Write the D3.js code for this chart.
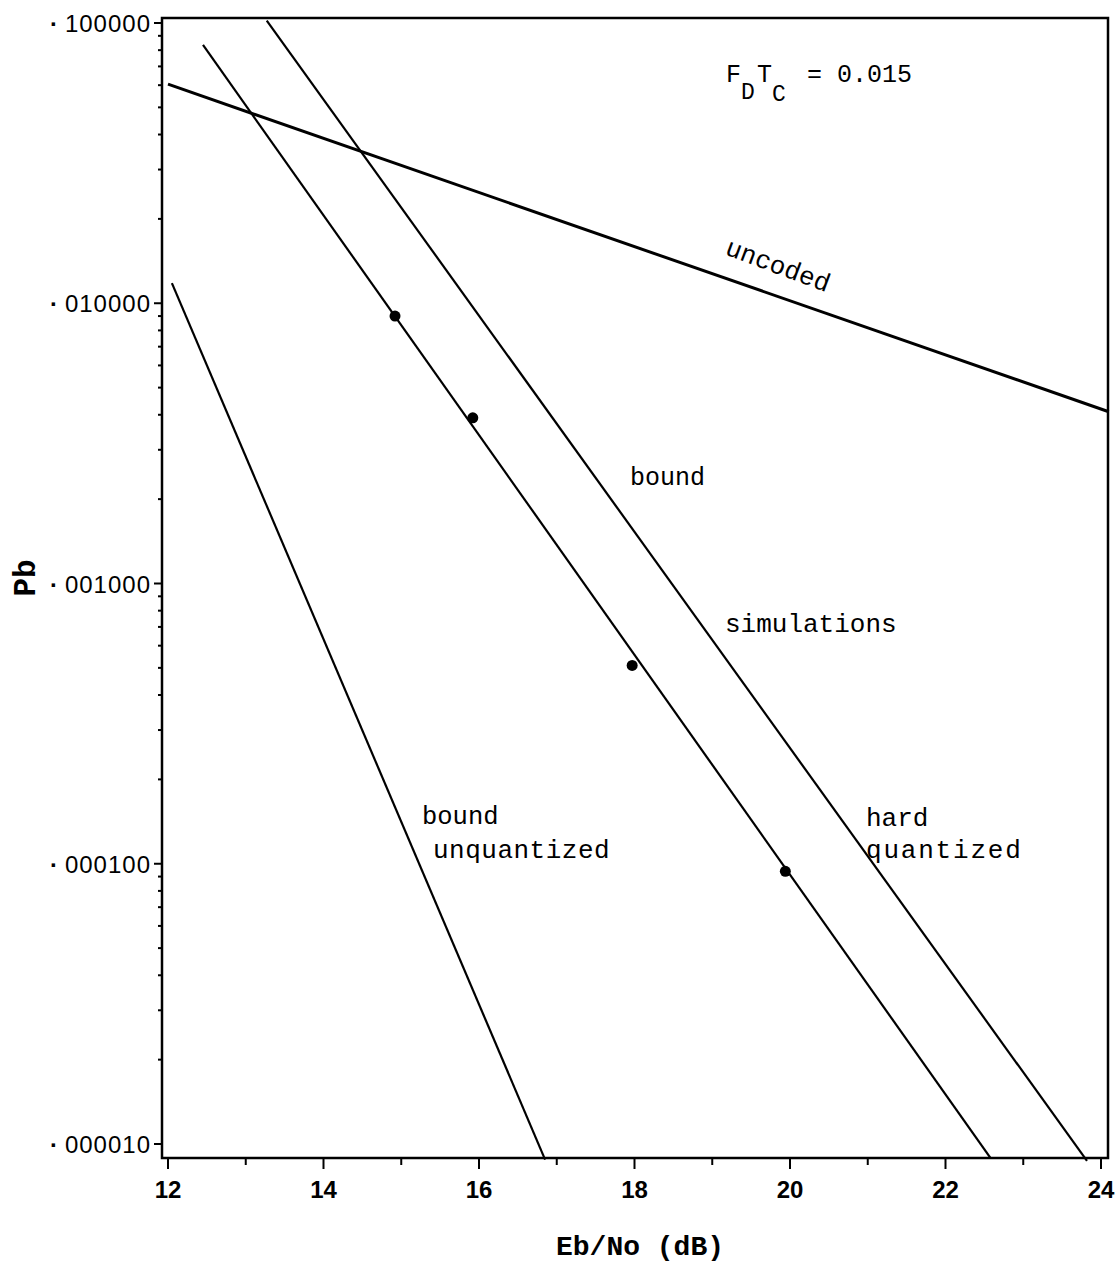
<!DOCTYPE html>
<html>
<head>
<meta charset="utf-8">
<script src="https://cdn.jsdelivr.net/npm/d3@7"></script>
<style>
  body { margin: 0; background: #fff; }
  svg { display: block; }
</style>
</head>
<body>
<div id="chart"></div>
<script>
// values
const xTicks = [12, 14, 16, 18, 20, 22, 24];
const xMinorTicks = [13, 15, 17, 19, 21, 23];
const yTicks = [1e-1, 1e-2, 1e-3, 1e-4, 1e-5];
const yTickLabels = ["·100000", "·010000", "·001000", "·000100", "·000010"];

const uncoded = [[12.0, 0.0605], [24.1, 0.0041]];
const hardQuantized = [[13.27, 0.102], [23.82, 8.7e-6]];
const boundCurve = [[12.45, 0.0835], [22.58, 8.9e-6]];
const unquantized = [[12.05, 0.0118], [16.85, 8.8e-6]];
const simulations = [[14.92, 0.0090], [15.92, 0.0039], [17.97, 0.00051], [19.94, 0.000094]];

const width = 1117, height = 1272;
const frame = {left: 162, right: 1108, top: 18, bottom: 1158};

const svg = d3.select("#chart").append("svg")
    .attr("width", width)
    .attr("height", height);

const x = d3.scaleLinear().domain([12, 24]).range([168, 1101]);
const y = d3.scaleLog().domain([1e-5, 1e-1]).range([1144, 23]);

// minor log ticks on y
let yMinor = [];
for (let e = -5; e < -1; e++) {
    for (let m = 2; m <= 9; m++) yMinor.push(m * Math.pow(10, e));
}

const g = svg.append("g");

// frame
g.append("rect")
    .attr("x", frame.left).attr("y", frame.top)
    .attr("width", frame.right - frame.left)
    .attr("height", frame.bottom - frame.top)
    .attr("fill", "none")
    .attr("stroke", "#000")
    .attr("stroke-width", 2.5);

// y ticks
g.selectAll(".ymaj").data(yTicks).enter().append("line")
    .attr("x1", frame.left - 8).attr("x2", frame.left)
    .attr("y1", d => y(d)).attr("y2", d => y(d))
    .attr("stroke", "#000").attr("stroke-width", 2);
g.selectAll(".ymin").data(yMinor).enter().append("line")
    .attr("x1", frame.left - 4).attr("x2", frame.left)
    .attr("y1", d => y(d)).attr("y2", d => y(d))
    .attr("stroke", "#000").attr("stroke-width", 2);

let ylab = g.selectAll(".ylab").data(yTicks).enter().append("text")
    .attr("x", frame.left - 11)
    .attr("y", d => y(d) + 9)
    .attr("text-anchor", "end")
    .attr("font-family", "Liberation Sans, Arial, sans-serif")
    .attr("font-size", 24)
    .attr("letter-spacing", 1);
ylab.append("tspan").attr("font-weight", "bold").text((d, i) => yTickLabels[i].slice(0, 1));
ylab.append("tspan").attr("dx", 6).text((d, i) => yTickLabels[i].slice(1));

// x ticks
g.selectAll(".xmaj").data(xTicks).enter().append("line")
    .attr("x1", d => x(d)).attr("x2", d => x(d))
    .attr("y1", frame.bottom).attr("y2", frame.bottom + 11)
    .attr("stroke", "#000").attr("stroke-width", 2);
g.selectAll(".xmin").data(xMinorTicks).enter().append("line")
    .attr("x1", d => x(d)).attr("x2", d => x(d))
    .attr("y1", frame.bottom).attr("y2", frame.bottom + 7)
    .attr("stroke", "#000").attr("stroke-width", 2);
g.selectAll(".xlab").data(xTicks).enter().append("text")
    .attr("x", d => x(d))
    .attr("y", 1198)
    .attr("text-anchor", "middle")
    .attr("font-family", "Liberation Sans, Arial, sans-serif")
    .attr("font-size", 24)
    .attr("font-weight", "bold")
    .text(d => d);

// axis titles
svg.append("text")
    .attr("x", 640).attr("y", 1255)
    .attr("text-anchor", "middle")
    .attr("font-family", "Liberation Mono, monospace")
    .attr("font-weight", "bold")
    .attr("font-size", 28)
    .text("Eb/No (dB)");
svg.append("text")
    .attr("transform", "translate(35,578) rotate(-90)")
    .attr("text-anchor", "middle")
    .attr("font-family", "Liberation Mono, monospace")
    .attr("font-weight", "bold")
    .attr("font-size", 31)
    .text("Pb");

// curves
const line = d3.line().x(d => x(d[0])).y(d => y(d[1]));
g.append("path")
    .datum(uncoded)
    .attr("d", line)
    .attr("fill", "none")
    .attr("stroke", "#000")
    .attr("stroke-width", 3);
[hardQuantized, boundCurve, unquantized].forEach(s => {
    g.append("path")
        .datum(s)
        .attr("d", line)
        .attr("fill", "none")
        .attr("stroke", "#000")
        .attr("stroke-width", 2.2);
});

g.selectAll(".sim").data(simulations).enter().append("circle")
    .attr("cx", d => x(d[0]))
    .attr("cy", d => y(d[1]))
    .attr("r", 5.5)
    .attr("fill", "#000");

// labels
const mono = "Liberation Mono, DejaVu Sans Mono, monospace";
function label(tx, ty, str, size, ls) {
    return svg.append("text")
        .attr("x", tx).attr("y", ty)
        .attr("font-family", mono)
        .attr("font-size", size)
        .attr("letter-spacing", ls || 0)
        .text(str);
}
label(630, 485, "bound", 25);
label(725, 632, "simulations", 26);
label(866, 826, "hard", 26);
label(866, 858, "quantized", 26, 1.8);
label(422, 824, "bound", 25.5);
label(433, 858, "unquantized", 26, 0.5);

svg.append("text")
    .attr("transform", "translate(724,254) rotate(20.5)")
    .attr("font-family", mono)
    .attr("font-size", 26)
    .text("uncoded");

// F_D T_C = 0.015
const ft = svg.append("g")
    .attr("font-family", mono)
    .attr("font-size", 25);
ft.append("text").attr("x", 726).attr("y", 82).text("F");
ft.append("text").attr("x", 741).attr("y", 99).attr("font-size", 23).text("D");
ft.append("text").attr("x", 757).attr("y", 82).text("T");
ft.append("text").attr("x", 772).attr("y", 101).attr("font-size", 23).text("C");
ft.append("text").attr("x", 807).attr("y", 82).text("= 0.015");
</script>
</body>
</html>
